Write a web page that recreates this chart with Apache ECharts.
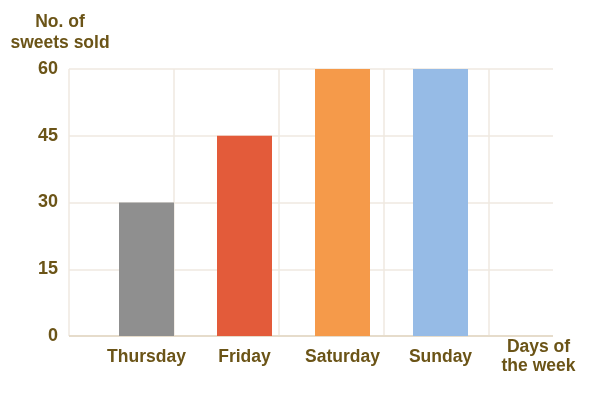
<!DOCTYPE html>
<html><head><meta charset="utf-8">
<script src="https://cdn.jsdelivr.net/npm/echarts@6/dist/echarts.min.js"></script>
<style>html,body{margin:0;padding:0;background:#fff}#c{width:602px;height:394px}</style>
</head><body><div id="c"></div>
<script>
const categories = ['Thursday', 'Friday', 'Saturday', 'Sunday', 'Days of\nthe week'];
const values = [30, 45, 60, 60, null];
const barColors = ['#8f8f8f', '#e35b3a', '#f59a4a', '#96bbe6'];
const yTicks = [0, 15, 30, 45, 60];
const yName = 'No. of\nsweets sold';

const txt = '#6b5417';
const gridCol = '#efe9e0';
const font = 'Liberation Sans, Arial';
const chart = echarts.init(document.getElementById('c'));
chart.setOption({
  animation: false,
  grid: [
    {left: 69, right: 49, top: 69, bottom: 58},
    {left: 97.5, right: 14.5, top: 69, bottom: 58}
  ],
  xAxis: [
    {type: 'value', gridIndex: 0, min: 0, max: 4.61, interval: 1,
     axisLabel: {show: false}, axisTick: {show: false}, axisLine: {show: false},
     splitLine: {show: true, lineStyle: {color: [gridCol, gridCol, gridCol, gridCol, gridCol, 'rgba(0,0,0,0)'], width: 1.5}}},
    {type: 'category', gridIndex: 1, data: categories,
     axisLine: {show: false}, axisTick: {show: false}, splitLine: {show: false},
     axisLabel: {color: txt, fontFamily: font, fontWeight: 'bold', fontSize: 17.5, margin: 21, lineHeight: 19, verticalAlign: 'middle', interval: 0}}
  ],
  yAxis: [
    {type: 'value', gridIndex: 0, min: yTicks[0], max: yTicks[yTicks.length - 1], interval: 15,
     name: yName, nameLocation: 'end', nameGap: 15,
     nameTextStyle: {color: txt, fontFamily: font, fontWeight: 'bold', fontSize: 17.5, lineHeight: 21, align: 'center', padding: [0, 18, 0, 0]},
     axisLine: {show: false}, axisTick: {show: false},
     axisLabel: {color: txt, fontFamily: font, fontWeight: 'bold', fontSize: 18, margin: 11},
     splitLine: {show: true, lineStyle: {color: [gridCol, gridCol, gridCol, gridCol, gridCol], width: 1.5}}},
    {type: 'value', gridIndex: 1, min: 0, max: 60, interval: 15, show: false}
  ],
  series: [
    {type: 'bar', xAxisIndex: 1, yAxisIndex: 1, barWidth: 55,
     data: values.map((v, i) => ({value: v, itemStyle: {color: barColors[i]}}))},
    {type: 'line', xAxisIndex: 0, yAxisIndex: 0, data: [[0, 0], [4.61, 0]], symbol: 'none',
     lineStyle: {color: '#e6dccb', width: 2}, silent: true, z: 1}
  ]
});
</script></body></html>
